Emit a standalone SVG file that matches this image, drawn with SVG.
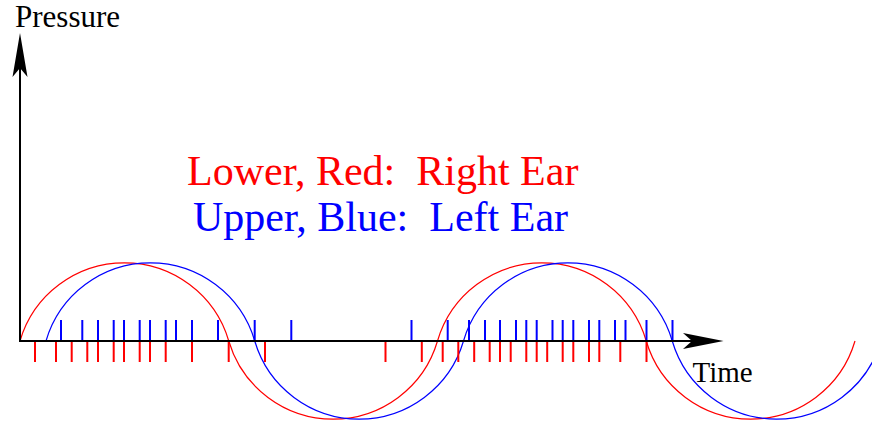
<svg xmlns="http://www.w3.org/2000/svg" width="872" height="423" viewBox="0 0 872 423">
<style>
.lbl{font-family:"Liberation Serif","Times New Roman",serif;fill:#000}
.title{font-family:"Liberation Serif","Times New Roman",serif;font-size:42px}
.axis{stroke:#000;stroke-width:2;fill:none}
.wave{fill:none;stroke-width:1.2}
.rt{stroke:#ff0000;stroke-width:2}
.bt{stroke:#0000ff;stroke-width:2}
</style>
<rect width="872" height="423" fill="#fff"/>
<g id="waves">
<path id="red-wave" class="wave" stroke="#ff0000" d="M20,341 A108.8,108.8 0 0 1 228.75,341 A108.8,108.8 0 0 0 437.5,341 A108.8,108.8 0 0 1 646.25,341 A108.8,108.8 0 0 0 855,341"/>
<path id="blue-wave" class="wave" stroke="#0000ff" d="M46,341 A108.8,108.8 0 0 1 254.75,341 A108.8,108.8 0 0 0 463.5,341 A108.8,108.8 0 0 1 672.25,341 A108.8,108.8 0 0 0 881,341"/>
</g>
<g id="blue-ticks" class="bt">
<path d="M61,320V341M82.3,320V341M98,320V341M113.7,320V341M124,320V341M139.7,320V341M150,320V341M165.7,320V341M176,320V341M192,320V341M218,320V341M254.7,320V341M291.3,320V341M411.5,320V341M447.7,320V341M469,320V341M485,320V341M500,320V341M516,320V341M526.3,320V341M536.7,320V341M552.5,320V341M562.7,320V341M573.3,320V341M589,320V341M599.3,320V341M615,320V341M625.5,320V341M646.5,320V341M672.5,320V341"/>
</g>
<g id="red-ticks" class="rt">
<path d="M35,341V362M56,341V362M71.7,341V362M87.3,341V362M98,341V362M113.7,341V362M124,341V362M139.7,341V362M150,341V362M165.7,341V362M192,341V362M228.7,341V362M265,341V362M385.5,341V362M421.8,341V362M442.7,341V362M458.3,341V362M474.2,341V362M489.7,341V362M500,341V362M510.7,341V362M526.3,341V362M536.7,341V362M547.2,341V362M562.7,341V362M573.3,341V362M589,341V362M599.3,341V362M620.3,341V362M646.5,341V362"/>
</g>
<g id="axes">
<path id="y-axis" class="axis" d="M20,342V66"/>
<path id="y-arrowhead" d="M20,33 L27.5,77 L20,68 L12.5,77 Z" fill="#000"/>
<path id="x-axis" class="axis" d="M19,341H692"/>
<path id="x-arrowhead" d="M723.5,341 L683,333 L692,341 L683,349 Z" fill="#000"/>
</g>
<g id="labels">
<text class="lbl" x="15" y="27" font-size="31">Pressure</text>
<text class="lbl" x="692.5" y="382" font-size="29">Time</text>
<text class="title" x="187" y="184.5" fill="#ff0000" xml:space="preserve">Lower, Red:  Right Ear</text>
<text class="title" x="193" y="230.5" fill="#0000ff" xml:space="preserve">Upper, Blue:  Left Ear</text>
</g>
</svg>
